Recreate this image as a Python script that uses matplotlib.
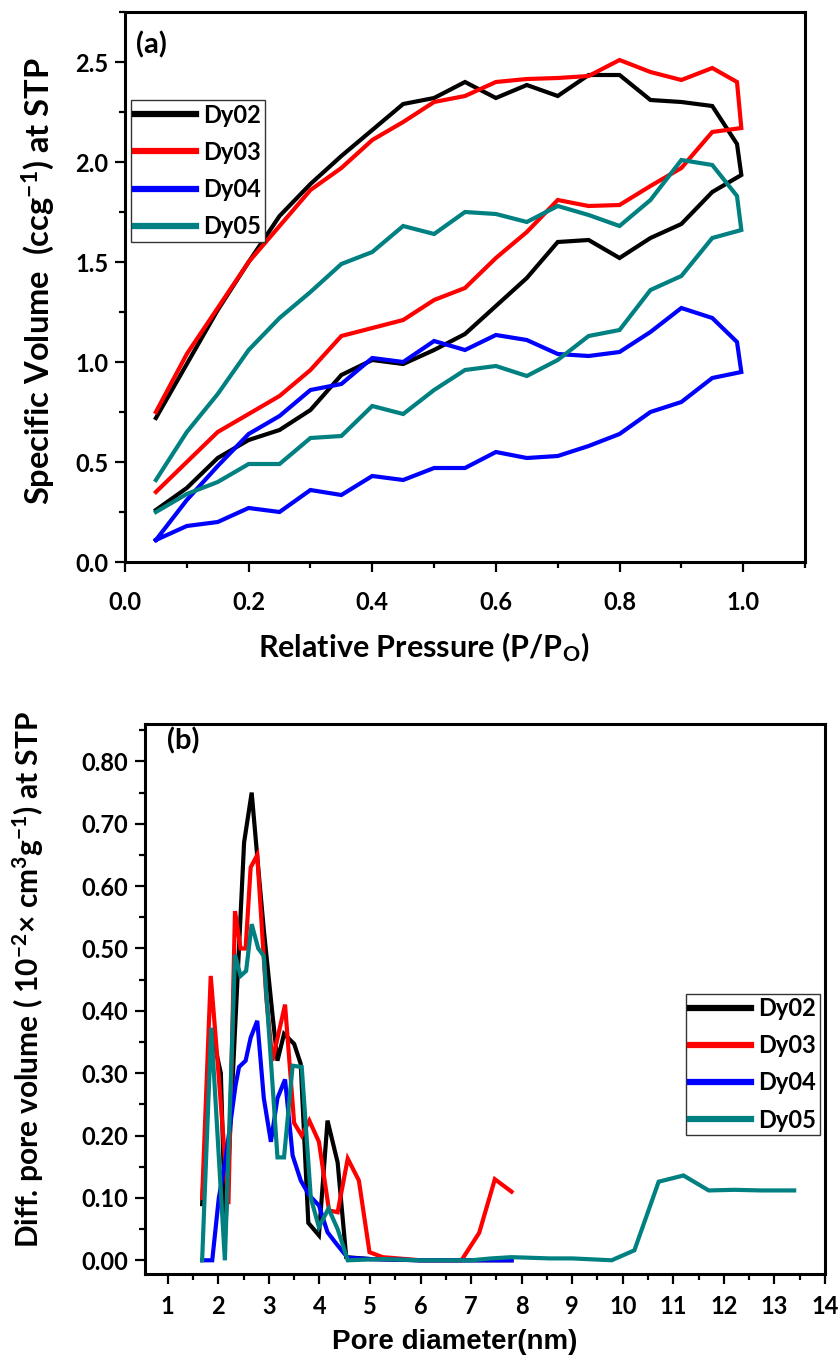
import matplotlib
matplotlib.use('Agg')
import matplotlib.pyplot as plt
from matplotlib.ticker import MultipleLocator, FormatStrFormatter

plt.rcParams['font.family'] = ['Lato', 'DejaVu Sans']
plt.rcParams['font.weight'] = 'bold'
plt.rcParams['mathtext.fontset'] = 'custom'
plt.rcParams['mathtext.rm'] = 'Lato:bold'
plt.rcParams['mathtext.it'] = 'Lato:bold'
plt.rcParams['mathtext.bf'] = 'Lato:bold'

# ---------------- Panel (a): isotherms ----------------
p_ads = [0.05, 0.10, 0.15, 0.20, 0.25, 0.30, 0.35, 0.40, 0.45, 0.50,
         0.55, 0.60, 0.65, 0.70, 0.75, 0.80, 0.85, 0.90, 0.95, 0.997]
p_des = [0.99, 0.95, 0.90, 0.85, 0.80, 0.75, 0.70, 0.65, 0.60, 0.55,
         0.50, 0.45, 0.40, 0.35, 0.30, 0.25, 0.20, 0.15, 0.10, 0.05]

dy02_ads = [0.26, 0.37, 0.52, 0.61, 0.66, 0.76, 0.935, 1.01, 0.99, 1.06,
            1.14, 1.28, 1.42, 1.60, 1.61, 1.52, 1.62, 1.69, 1.85, 1.935]
dy02_des = [2.09, 2.28, 2.30, 2.31, 2.435, 2.435, 2.33, 2.385, 2.32, 2.40,
            2.32, 2.29, 2.16, 2.03, 1.89, 1.73, 1.50, 1.26, 0.99, 0.72]

dy03_ads = [0.35, 0.50, 0.65, 0.74, 0.83, 0.96, 1.13, 1.17, 1.21, 1.31,
            1.37, 1.52, 1.65, 1.81, 1.78, 1.785, 1.88, 1.97, 2.15, 2.17]
dy03_des = [2.40, 2.47, 2.41, 2.45, 2.51, 2.43, 2.42, 2.415, 2.40, 2.33,
            2.30, 2.20, 2.11, 1.97, 1.86, 1.68, 1.50, 1.27, 1.04, 0.75]

dy04_ads = [0.11, 0.18, 0.20, 0.27, 0.25, 0.36, 0.335, 0.43, 0.41, 0.47,
            0.47, 0.55, 0.52, 0.53, 0.58, 0.64, 0.75, 0.80, 0.92, 0.95]
dy04_des = [1.10, 1.22, 1.27, 1.15, 1.05, 1.03, 1.04, 1.11, 1.135, 1.06,
            1.105, 1.00, 1.02, 0.89, 0.86, 0.73, 0.64, 0.48, 0.31, 0.11]

dy05_ads = [0.25, 0.34, 0.40, 0.49, 0.49, 0.62, 0.63, 0.78, 0.74, 0.86,
            0.96, 0.98, 0.93, 1.01, 1.13, 1.16, 1.36, 1.43, 1.62, 1.66]
dy05_des = [1.83, 1.985, 2.01, 1.81, 1.68, 1.735, 1.78, 1.70, 1.74, 1.75,
            1.64, 1.68, 1.55, 1.49, 1.35, 1.22, 1.06, 0.84, 0.65, 0.41]

# ---------------- Panel (b): pore size distribution ----------------
dy02_d = [1.68, 1.86, 2.05, 2.14, 2.51, 2.66, 2.80, 2.90, 3.07, 3.17, 3.30,
          3.50, 3.63, 3.78, 3.99, 4.16, 4.36, 4.53, 5.0, 6.0, 7.0, 7.8]
dy02_v = [0.09, 0.37, 0.30, 0.05, 0.67, 0.75, 0.62, 0.53, 0.395, 0.32, 0.363,
          0.347, 0.315, 0.06, 0.04, 0.224, 0.157, 0.005, 0.002, 0.0, 0.0, 0.0]

dy03_d = [1.68, 1.85, 1.98, 2.20, 2.33, 2.44, 2.54, 2.64, 2.77, 2.95, 3.07,
          3.32, 3.50, 3.65, 3.80, 3.99, 4.19, 4.36, 4.56, 4.78, 4.99, 5.25,
          6.0, 6.81, 7.16, 7.47, 7.80]
dy03_v = [0.10, 0.456, 0.325, 0.09, 0.56, 0.50, 0.50, 0.63, 0.65, 0.42, 0.32,
          0.41, 0.22, 0.20, 0.224, 0.19, 0.08, 0.077, 0.163, 0.128, 0.013, 0.005,
          0.0, 0.0, 0.044, 0.13, 0.11]

dy04_d = [1.68, 1.88, 2.01, 2.14, 2.34, 2.41, 2.54, 2.64, 2.77, 2.90, 3.04,
          3.17, 3.32, 3.47, 3.63, 3.80, 3.99, 4.16, 4.33, 4.56, 5.0, 6.0, 7.0, 7.8]
dy04_v = [0.0, 0.0, 0.10, 0.16, 0.28, 0.31, 0.32, 0.357, 0.384, 0.26, 0.19,
          0.26, 0.29, 0.168, 0.128, 0.104, 0.088, 0.045, 0.027, 0.004, 0.002,
          0.0, 0.0, 0.0]

dy05_d = [1.68, 1.86, 2.13, 2.33, 2.44, 2.55, 2.66, 2.79, 2.90, 3.17, 3.30,
          3.47, 3.65, 3.83, 3.99, 4.18, 4.36, 4.56, 5.25, 6.0, 7.0, 7.4, 7.8,
          8.56, 9.0, 9.78, 10.23, 10.71, 11.20, 11.70, 12.20, 12.73, 13.39]
dy05_v = [0.0, 0.373, 0.0, 0.49, 0.456, 0.464, 0.539, 0.50, 0.488, 0.165, 0.165,
          0.312, 0.31, 0.10, 0.053, 0.083, 0.05, 0.0, 0.002, 0.0, 0.0, 0.003, 0.005,
          0.003, 0.003, 0.0, 0.016, 0.126, 0.136, 0.112, 0.113, 0.112, 0.112]

labels = ['Dy02', 'Dy03', 'Dy04', 'Dy05']
colors = ['#000000', '#FF0000', '#0000FF', '#008080']

W, H = 840, 1366
fig = plt.figure(figsize=(W / 100, H / 100), dpi=100)
ax1 = fig.add_axes([125 / W, (H - 562) / H, 680 / W, 550 / H])
ax2 = fig.add_axes([145 / W, (H - 1274) / H, 680 / W, 550 / H])

lw = 3.0
iso = [(dy02_ads, dy02_des), (dy03_ads, dy03_des),
       (dy04_ads, dy04_des), (dy05_ads, dy05_des)]
for (ads, des), lab, c in zip(iso, labels, colors):
    ax1.plot(p_ads + p_des, ads + des, color=c, lw=lw, label=lab,
             solid_joinstyle='miter')

psd = [(dy02_d, dy02_v), (dy03_d, dy03_v), (dy04_d, dy04_v), (dy05_d, dy05_v)]
for (d, v), lab, c in zip(psd, labels, colors):
    ax2.plot(d, v, color=c, lw=lw, label=lab, solid_joinstyle='miter')

# ---- axes (a)
ax1.set_xlim(0.0, 1.1)
ax1.set_ylim(0.0, 2.75)
ax1.xaxis.set_major_locator(MultipleLocator(0.2))
ax1.xaxis.set_minor_locator(MultipleLocator(0.1))
ax1.yaxis.set_major_locator(MultipleLocator(0.5))
ax1.yaxis.set_minor_locator(MultipleLocator(0.25))
ax1.xaxis.set_major_formatter(FormatStrFormatter('%.1f'))
ax1.yaxis.set_major_formatter(FormatStrFormatter('%.1f'))
ax1.set_xlabel('Relative Pressure (P/P$_{O}$)', fontsize=22, fontweight='bold')
ax1.set_ylabel('Specific Volume  (ccg$^{-1}$) at STP', fontsize=23.5, fontweight='bold')
ax1.xaxis.set_label_coords(0.44, -0.125)
ax1.yaxis.set_label_coords(-0.1, 0.51)
ax1.text(0.016, 0.94, '(a)', transform=ax1.transAxes, fontsize=21,
         fontweight='bold', va='center', ha='left')

# ---- axes (b)
ax2.set_xlim(0.55, 14.0)
ax2.set_ylim(-0.022, 0.86)
ax2.xaxis.set_major_locator(MultipleLocator(1))
ax2.xaxis.set_minor_locator(MultipleLocator(0.5))
ax2.yaxis.set_major_locator(MultipleLocator(0.1))
ax2.yaxis.set_minor_locator(MultipleLocator(0.05))
ax2.xaxis.set_major_formatter(FormatStrFormatter('%d'))
ax2.yaxis.set_major_formatter(FormatStrFormatter('%.2f'))
ax2.set_xlabel('Pore diameter(nm)', fontsize=20, fontweight='bold',
               family=['Liberation Sans', 'DejaVu Sans'])
ax2.set_ylabel('Diff. pore volume ( 10$^{-2}$× cm$^{3}$g$^{-1}$) at STP',
               fontsize=21.5, fontweight='bold')
ax2.xaxis.set_label_coords(0.455, -0.1)
ax2.yaxis.set_label_coords(-0.145, 0.535)
ax2.text(0.032, 0.97, '(b)', transform=ax2.transAxes, fontsize=21,
         fontweight='bold', va='center', ha='left')

for ax in (ax1, ax2):
    for s in ax.spines.values():
        s.set_linewidth(2.2)
    ax.tick_params(which='major', direction='out', length=7, width=1.6,
                   labelsize=17, pad=5)
    ax.tick_params(which='minor', direction='out', length=4, width=1.6)
    for t in ax.get_xticklabels() + ax.get_yticklabels():
        t.set_fontweight('bold')
ax1.tick_params(axis='x', which='major', pad=14)
ax2.tick_params(axis='x', which='major', pad=8)

leg_kw = dict(loc='upper left', frameon=True, fancybox=False, framealpha=1,
              edgecolor='#333333', handlelength=2.6, handletextpad=0.3,
              borderpad=0.15, labelspacing=0.6, borderaxespad=0,
              prop={'weight': 'bold', 'size': 17})
leg1 = ax1.legend(bbox_to_anchor=(0.009, 0.84), **leg_kw)
leg2 = ax2.legend(bbox_to_anchor=(0.796, 0.51), **leg_kw)
for leg in (leg1, leg2):
    leg.get_frame().set_linewidth(1.0)
    for ln in leg.get_lines():
        ln.set_linewidth(4.5)

fig.savefig('out.png', dpi=100)
